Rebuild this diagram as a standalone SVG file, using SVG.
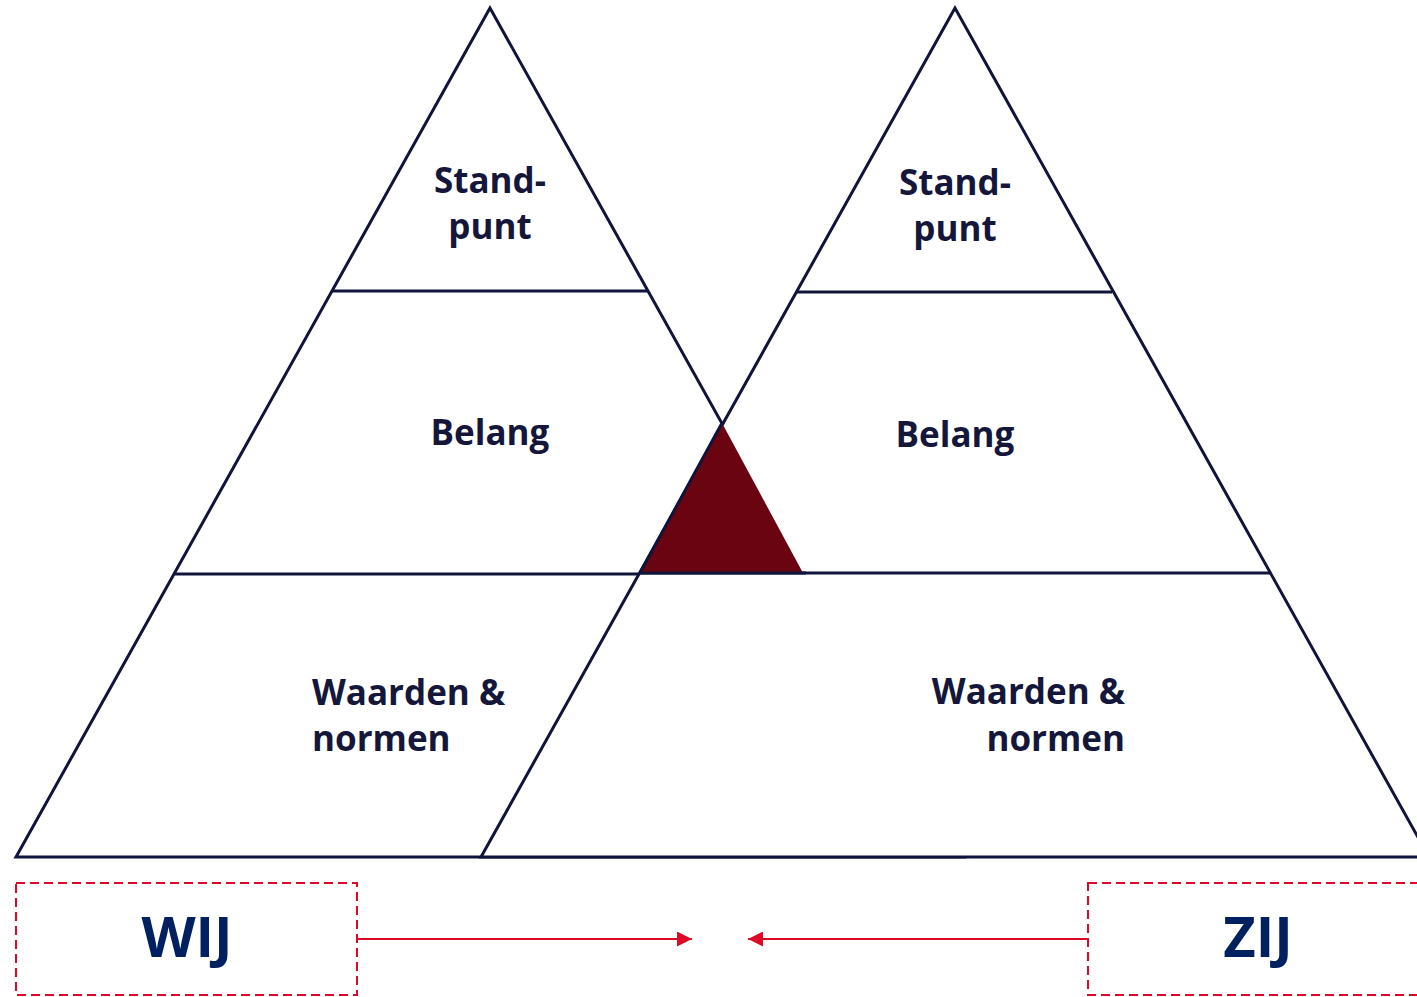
<svg xmlns="http://www.w3.org/2000/svg" width="1417" height="997" viewBox="0 0 1417 997">
<defs>
<style>
.ln{fill:#ffffff;stroke:#11143a;stroke-width:3;stroke-linejoin:miter}
.t{font-family:"Open Sans","Noto Sans","Liberation Sans",sans-serif;font-weight:700;font-size:35px;fill:#14163a}
.big{font-family:"Open Sans","Noto Sans","Liberation Sans",sans-serif;font-weight:700;font-size:56px;fill:#002060;text-anchor:middle}
.box{fill:none;stroke:#dc0a28;stroke-width:2;stroke-dasharray:9 5}
.arr{fill:none;stroke:#dc0a28;stroke-width:2}
</style>
<marker id="ah" viewBox="0 0 10 10" refX="10" refY="5" markerWidth="16" markerHeight="15" markerUnits="userSpaceOnUse" orient="auto">
<path d="M0,0 L10,5 L0,10 Z" fill="#dc0a28"/>
</marker>
</defs>
<rect width="1417" height="997" fill="#ffffff"/>
<g id="pyramid-wij">
<polygon class="ln" points="490,8 16,857 964,857"/>
<line class="ln" x1="333" y1="291" x2="648" y2="291"/>
<line class="ln" x1="175" y1="574" x2="806" y2="574"/>
<text class="t" x="490" y="193" text-anchor="middle">Stand-</text>
<text class="t" x="490" y="239" text-anchor="middle">punt</text>
<text class="t" x="490" y="445" text-anchor="middle">Belang</text>
<text class="t" x="312" y="705">Waarden &amp;</text>
<text class="t" x="312" y="751">normen</text>
</g>
<g id="pyramid-zij">
<polygon class="ln" points="955,8 481,857 1429,857"/>
<line class="ln" x1="797" y1="292" x2="1112" y2="292"/>
<line class="ln" x1="640" y1="573" x2="1270" y2="573"/>
<text class="t" x="955" y="195" text-anchor="middle">Stand-</text>
<text class="t" x="955" y="241" text-anchor="middle">punt</text>
<text class="t" x="955" y="447" text-anchor="middle">Belang</text>
<text class="t" x="1125" y="704" text-anchor="end">Waarden &amp;</text>
<text class="t" x="1125" y="751" text-anchor="end">normen</text>
</g>
<g id="overlap">
<polygon points="722,423 640,573 803,573" fill="#6a0410"/>
<line class="ln" x1="722" y1="423" x2="640" y2="573"/>
<line class="ln" x1="640" y1="573" x2="806" y2="573"/>
</g>
<g id="wij">
<rect class="box" x="16" y="883" width="341" height="112"/>
<text class="big" x="187" y="957">WIJ</text>
</g>
<g id="zij">
<rect class="box" x="1088" y="883" width="340" height="112"/>
<text class="big" x="1258" y="957">ZIJ</text>
</g>
<g id="connectors">
<line class="arr" x1="357" y1="939" x2="692" y2="939" marker-end="url(#ah)"/>
<line class="arr" x1="1088" y1="939" x2="748" y2="939" marker-end="url(#ah)"/>
</g>
</svg>
